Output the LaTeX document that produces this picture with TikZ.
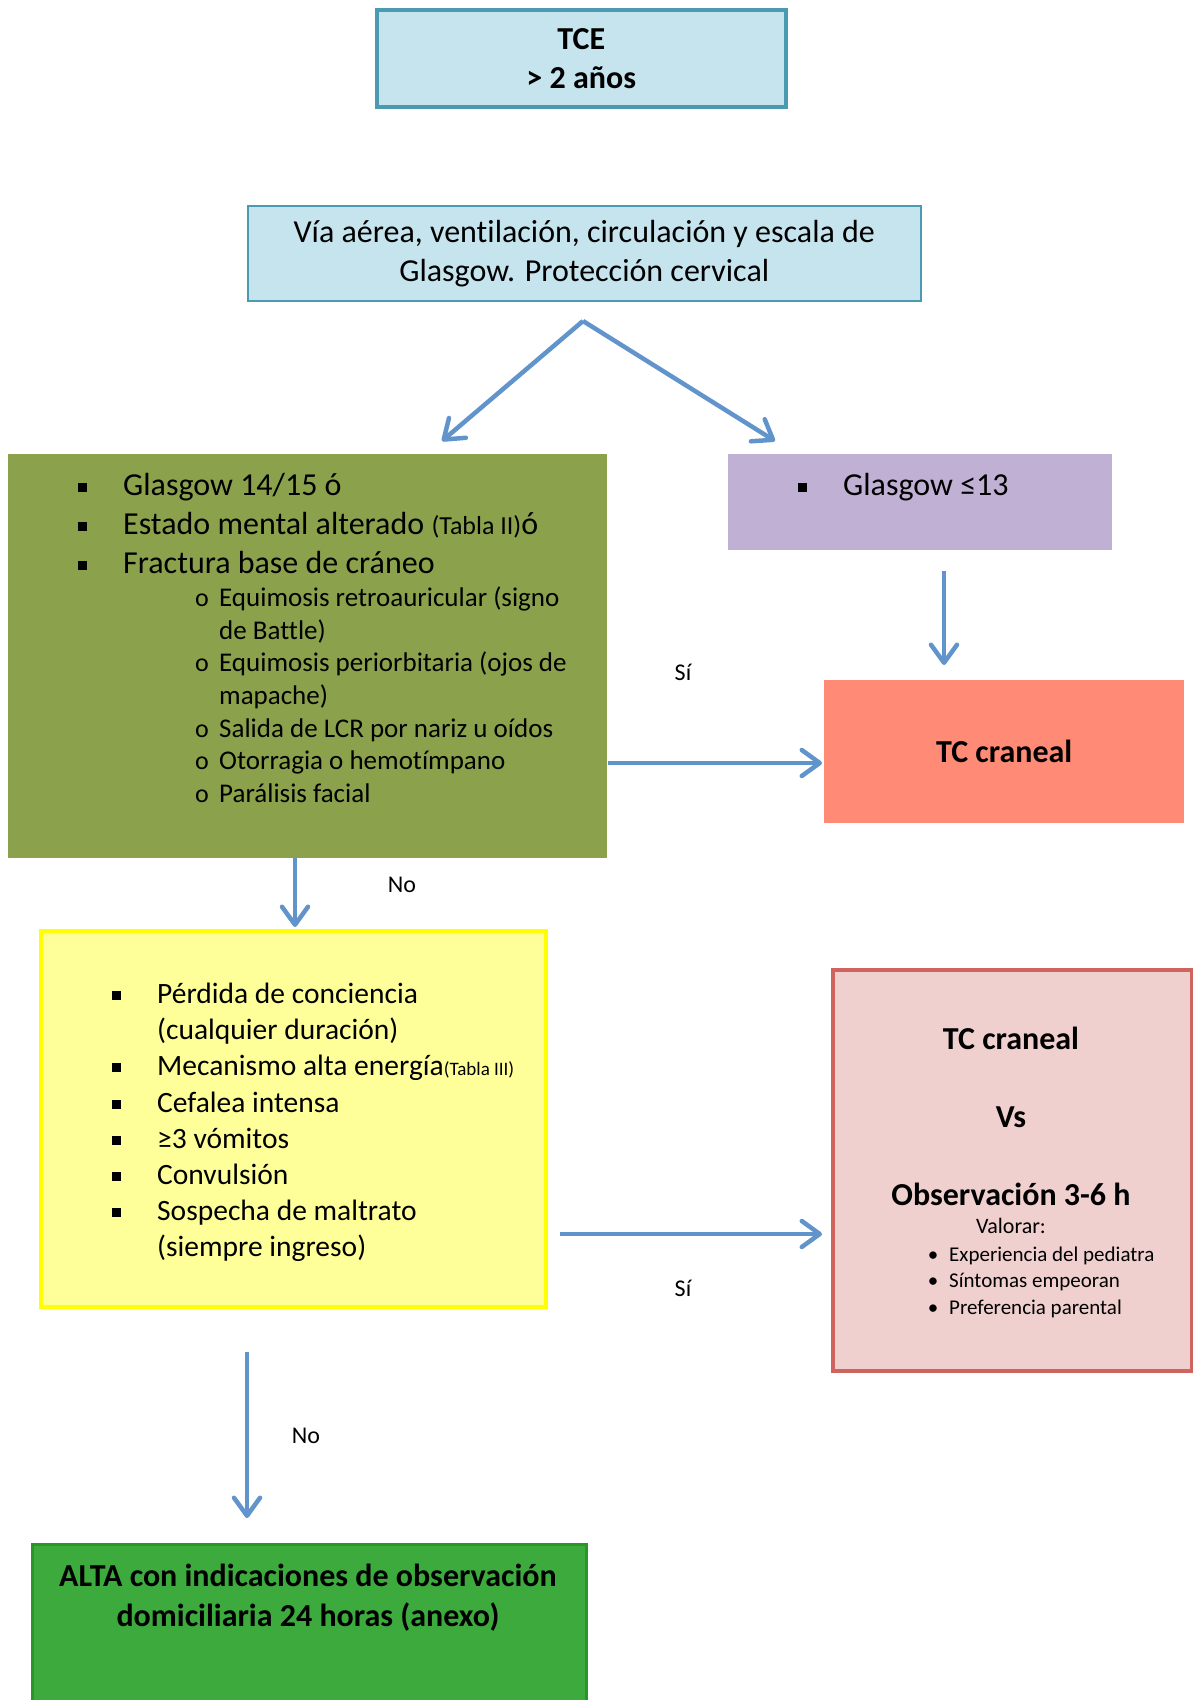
\documentclass[tikz,border=0pt]{standalone}
\usepackage{fontspec}
\setmainfont{Carlito}[Ligatures=NoCommon]
\usetikzlibrary{arrows.meta}

\definecolor{tceblue}{HTML}{C5E4EE}
\definecolor{tceline}{HTML}{4A9BB1}
\definecolor{olivefill}{HTML}{8BA14C}
\definecolor{lilac}{HTML}{C0B0D3}
\definecolor{salmon}{HTML}{FF8A75}
\definecolor{paleyellow}{HTML}{FFFF9A}
\definecolor{brightyellow}{HTML}{FFFF00}
\definecolor{pinkfill}{HTML}{F0D0CF}
\definecolor{pinkline}{HTML}{CF635E}
\definecolor{altagreen}{HTML}{3DAA3D}
\definecolor{altaline}{HTML}{2A962A}
\definecolor{arrowblue}{HTML}{6294CC}

\newcommand{\sqb}{\makebox[45pt][l]{\raisebox{3pt}{\rule{9pt}{9pt}}}}
\newcommand{\circb}{\makebox[24pt][l]{\fontsize{26}{26}\selectfont o}}
\newcommand{\dotb}{\makebox[12pt][c]{\textbullet}\hspace{10pt}}

\tikzset{
  box/.style={rectangle, anchor=north west, inner sep=0pt},
  item/.style={anchor=base west, inner sep=0pt, font=\fontsize{32}{39}\selectfont},
  subitem/.style={anchor=base west, inner sep=0pt, font=\fontsize{27}{32}\selectfont},
  riskitem/.style={anchor=base west, inner sep=0pt, font=\fontsize{29.5}{36}\selectfont},
  bold/.style={anchor=base, inner sep=0pt, font=\bfseries\fontsize{32}{39}\selectfont},
  yesno/.style={inner sep=0pt, font=\fontsize{24}{28}\selectfont},
  arr/.style={draw=arrowblue, line width=4.5pt, -{Straight Barb[length=18pt,width=26pt,round]}},
}

\begin{document}
\begin{tikzpicture}[x=1pt,y=-1pt]
\useasboundingbox (0,0) rectangle (1193,1700);
\clip (0,0) rectangle (1193,1700);

% boxes
\node[box, fill=tceblue, draw=tceline, line width=3.5pt, minimum width=409pt, minimum height=97pt,
  align=center, font=\bfseries\fontsize{32}{39}\selectfont] (tce) at (375,8) {TCE\\> 2 años};
\node[box, fill=tceblue, draw=tceline, line width=1.5pt, minimum width=673pt, minimum height=95pt,
  align=center, font=\fontsize{32}{39}\selectfont] (via) at (247,205)
  {Vía aérea, ventilación, circulación y escala de\\Glasgow. Protección cervical};
\node[box, fill=olivefill, minimum width=599pt, minimum height=404pt] (crit) at (8,454) {};
\node[box, fill=lilac, minimum width=384pt, minimum height=96pt] (gcs) at (728,454) {};
\node[box, fill=salmon, minimum width=360pt, minimum height=143pt,
  font=\bfseries\fontsize{32}{39}\selectfont] (tc) at (824,680) {TC craneal};
\node[box, fill=paleyellow, draw=brightyellow, line width=3.5pt, minimum width=505pt, minimum height=376pt] (risk) at (39,929) {};
\node[box, fill=pinkfill, draw=pinkline, line width=3.5pt, minimum width=359pt, minimum height=401pt] (tcobs) at (831,968) {};
\node[box, fill=altagreen, draw=altaline, line width=3pt, minimum width=554pt, minimum height=190pt] (alta) at (31,1543) {};

% olive box text
\node[item] (c1) at (78,495) {\sqb Glasgow 14/15 ó};
\node[item] (c2) at (78,534) {\sqb Estado mental alterado {\fontsize{26}{30}\selectfont(Tabla II)}ó};
\node[item] (c3) at (78,573) {\sqb Fractura base de cráneo};
\node[subitem] (s1) at (195,606) {\circb Equimosis retroauricular (signo};
\node[subitem] (s1b) at (219,639) {de Battle)};
\node[subitem] (s2) at (195,671) {\circb Equimosis periorbitaria (ojos de};
\node[subitem] (s2b) at (219,704) {mapache)};
\node[subitem] (s3) at (195,737) {\circb Salida de LCR por nariz u oídos};
\node[subitem] (s4) at (195,769) {\circb Otorragia o hemotímpano};
\node[subitem] (s5) at (195,802) {\circb Parálisis facial};

% purple box text
\node[item] (g1) at (798,495) {\sqb Glasgow ≤13};

% yellow box text
\node[riskitem] (r1) at (112,1003) {\sqb Pérdida de conciencia};
\node[riskitem] (r1b) at (157,1039) {(cualquier duración)};
\node[riskitem] (r2) at (112,1075) {\sqb Mecanismo alta energía{\fontsize{19}{22}\selectfont(Tabla III)}};
\node[riskitem] (r3) at (112,1112) {\sqb Cefalea intensa};
\node[riskitem] (r4) at (112,1148) {\sqb ≥3 vómitos};
\node[riskitem] (r5) at (112,1184) {\sqb Convulsión};
\node[riskitem] (r6) at (112,1220) {\sqb Sospecha de maltrato};
\node[riskitem] (r6b) at (157,1256) {(siempre ingreso)};

% pink box text
\node[bold] (p1) at (1011,1049) {TC craneal};
\node[bold] (p2) at (1011,1127) {Vs};
\node[bold] (p3) at (1011,1205) {Observación 3-6 h};
\node[anchor=base, inner sep=0pt, font=\fontsize{22}{26}\selectfont] (p4) at (1011,1233) {Valorar:};
\node[anchor=base west, inner sep=0pt, font=\fontsize{21}{26}\selectfont] (v1) at (927,1261) {\dotb Experiencia del pediatra};
\node[anchor=base west, inner sep=0pt, font=\fontsize{21}{26}\selectfont] (v2) at (927,1287) {\dotb Síntomas empeoran};
\node[anchor=base west, inner sep=0pt, font=\fontsize{21}{26}\selectfont] (v3) at (927,1314) {\dotb Preferencia parental};

% green box text
\node[bold] (a1) at (308,1586) {ALTA con indicaciones de observación};
\node[bold] (a2) at (308,1626) {domiciliaria 24 horas (anexo)};

% labels
\node[yesno] (si1) at (683,672) {Sí};
\node[yesno] (no1) at (402,885) {No};
\node[yesno] (si2) at (683,1288) {Sí};
\node[yesno] (no2) at (306,1436) {No};

% arrows
\coordinate (split) at (583,321);
\coordinate (critin) at (442,441);
\coordinate (gcsin) at (775,441);
\coordinate (gcsout) at (944,571);
\coordinate (tcin) at (944,665);
\coordinate (critout) at (608,763);
\coordinate (tcleft) at (822,763);
\coordinate (critdown) at (295,858);
\coordinate (riskin) at (295,927);
\coordinate (riskout) at (560,1234);
\coordinate (obsin) at (822,1234);
\coordinate (riskdown) at (247,1352);
\coordinate (altain) at (247,1518);
\draw[arr] (split) -- (critin);
\draw[arr] (split) -- (gcsin);
\draw[arr] (gcsout) -- (tcin);
\draw[arr] (critout) -- (tcleft);
\draw[arr] (critdown) -- (riskin);
\draw[arr] (riskout) -- (obsin);
\draw[arr] (riskdown) -- (altain);
\end{tikzpicture}
\end{document}
